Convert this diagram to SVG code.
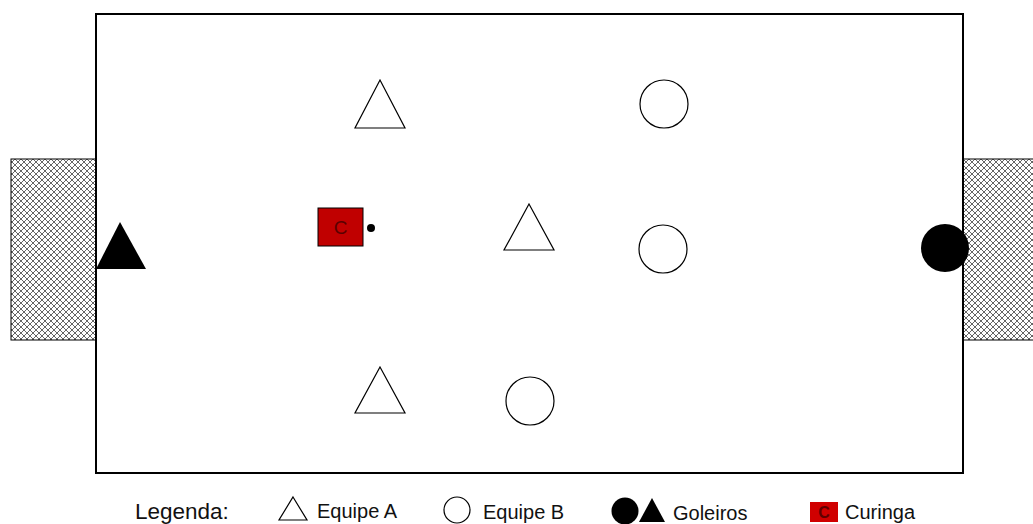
<svg xmlns="http://www.w3.org/2000/svg" width="1033" height="524" viewBox="0 0 1033 524">
<defs>
<pattern id="net" width="6" height="6" patternUnits="userSpaceOnUse">
<rect width="6" height="6" fill="#fff"/>
<path d="M0,0 L6,6 M6,0 L0,6" stroke="#555" stroke-width="0.9" fill="none"/>
</pattern>
<style>
.pl{fill:#fff;stroke:#000;stroke-width:1.2}
.gk{fill:#000;stroke:none}
.lbl{font-family:"Liberation Sans",Arial,sans-serif;font-size:20px;fill:#111}
.cur{fill:#c00000;stroke:#000;stroke-width:1}
</style>
</defs>
<rect width="1033" height="524" fill="#fff"/>
<g id="goal-left"><rect x="11" y="159" width="85" height="181" fill="url(#net)" stroke="#000" stroke-width="1"/></g>
<g id="goal-right"><rect x="963" y="159" width="72" height="181" fill="url(#net)" stroke="#000" stroke-width="1"/></g>
<g id="field"><rect x="96" y="14" width="867" height="459" fill="none" stroke="#000" stroke-width="2"/></g>
<g id="goalie-a"><polygon class="gk" points="120,222 146,269 96,269"/></g>
<g id="goalie-b"><circle class="gk" cx="945" cy="248" r="24"/></g>
<g id="a1"><polygon class="pl" points="380,80 405,128 355,128"/></g>
<g id="a2"><polygon class="pl" points="529,204 554,250 504,250"/></g>
<g id="a3"><polygon class="pl" points="380,367 405,413 355,413"/></g>
<g id="b1"><circle class="pl" cx="664" cy="104" r="24"/></g>
<g id="b2"><circle class="pl" cx="663" cy="249" r="24"/></g>
<g id="b3"><circle class="pl" cx="530" cy="401" r="24"/></g>
<g id="curinga"><rect class="cur" x="318" y="208" width="45" height="38"/>
<text x="340.5" y="234" text-anchor="middle" font-family="Liberation Sans,Arial,sans-serif" font-size="19" fill="#5a0000">C</text></g>
<g id="ball"><circle cx="371" cy="228" r="4" fill="#000"/></g>
<g id="legend">
<text class="lbl" x="135" y="519" style="font-size:22.5px">Legenda:</text>
<polygon class="pl" points="293,497 307,520 279,520"/>
<text class="lbl" x="317" y="518">Equipe A</text>
<circle class="pl" cx="457" cy="510" r="13"/>
<text class="lbl" x="483" y="519">Equipe B</text>
<circle class="gk" cx="625" cy="511" r="13.5"/>
<polygon class="gk" points="652,498 665,522 639,522"/>
<text class="lbl" x="673" y="520">Goleiros</text>
<rect x="810" y="502" width="28" height="20" fill="#d00000"/>
<text x="824" y="518" text-anchor="middle" font-family="Liberation Sans,Arial,sans-serif" font-size="16" font-weight="bold" fill="#600000">C</text>
<text class="lbl" x="845" y="519">Curinga</text>
</g>
</svg>
